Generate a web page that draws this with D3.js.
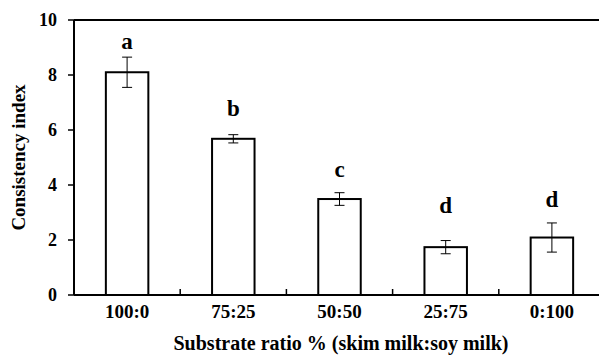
<!DOCTYPE html>
<html>
<head>
<meta charset="utf-8">
<script src="https://cdn.jsdelivr.net/npm/d3@7"></script>
<style>
  body { margin: 0; background: #fff; }
  text { font-family: "Liberation Serif", "Times New Roman", serif; font-weight: bold; fill: #000; }
</style>
</head>
<body>
<svg id="chart" width="599" height="355"></svg>
<script>
// data
const ratios = ['100:0', '75:25', '50:50', '25:75', '0:100'];
const means = [8.1, 5.68, 3.49, 1.74, 2.09];
const errors = [0.55, 0.15, 0.23, 0.24, 0.53];
const letters = ['a', 'b', 'c', 'd', 'd'];
const letterAt = [8.95, 6.5, 4.3, 2.98, 3.2]; // baseline of each letter, in y units
const yTicks = [0, 2, 4, 6, 8, 10];

const svg = d3.select('#chart');
const plotL = 74, plotR = 605, plotT = 20, plotB = 295;

const x = d3.scaleBand()
  .domain(ratios)
  .range([plotL, plotR])
  .paddingInner(0.6)
  .paddingOuter(0.3);

const step = (plotR - plotL) / ratios.length;

const y = d3.scaleLinear()
  .domain([0, 10])
  .range([plotB, plotT]);

// top frame line
svg.append('line')
  .attr('x1', plotL).attr('x2', 599)
  .attr('y1', y(10)).attr('y2', y(10))
  .attr('stroke', '#000').attr('stroke-width', 2);

// bars
svg.selectAll('rect.bar')
  .data(ratios)
  .enter()
  .append('rect')
  .attr('class', 'bar')
  .attr('x', d => x(d))
  .attr('y', (d, i) => y(means[i]))
  .attr('width', x.bandwidth())
  .attr('height', (d, i) => y(0) - y(means[i]))
  .attr('fill', '#fff')
  .attr('stroke', '#000')
  .attr('stroke-width', 2);

// error bars
const eb = svg.selectAll('g.err')
  .data(ratios)
  .enter()
  .append('g')
  .attr('class', 'err')
  .attr('stroke', '#000')
  .attr('stroke-width', 1);

eb.append('line')
  .attr('x1', d => x(d) + x.bandwidth() / 2)
  .attr('x2', d => x(d) + x.bandwidth() / 2)
  .attr('y1', (d, i) => y(means[i] + errors[i]))
  .attr('y2', (d, i) => y(means[i] - errors[i]));

[1, -1].forEach(s => {
  eb.append('line')
    .attr('x1', d => x(d) + x.bandwidth() / 2 - 5)
    .attr('x2', d => x(d) + x.bandwidth() / 2 + 5)
    .attr('y1', (d, i) => y(means[i] + s * errors[i]))
    .attr('y2', (d, i) => y(means[i] + s * errors[i]));
});

// significance letters
svg.selectAll('text.letter')
  .data(ratios)
  .enter()
  .append('text')
  .attr('class', 'letter')
  .attr('x', d => x(d) + x.bandwidth() / 2)
  .attr('y', (d, i) => y(letterAt[i]))
  .attr('text-anchor', 'middle')
  .style('font-size', '23px')
  .text((d, i) => letters[i]);

// y axis
svg.append('line')
  .attr('x1', plotL).attr('x2', plotL)
  .attr('y1', y(10)).attr('y2', y(0))
  .attr('stroke', '#000').attr('stroke-width', 2);

svg.selectAll('line.ytick')
  .data(yTicks)
  .enter()
  .append('line')
  .attr('class', 'ytick')
  .attr('x1', plotL - 6).attr('x2', plotL)
  .attr('y1', d => y(d)).attr('y2', d => y(d))
  .attr('stroke', '#000').attr('stroke-width', 1.5);

svg.selectAll('text.ylab')
  .data(yTicks)
  .enter()
  .append('text')
  .attr('class', 'ylab')
  .attr('x', 57)
  .attr('y', d => y(d) + 6)
  .attr('text-anchor', 'end')
  .style('font-size', '18px')
  .text(d => d);

// x axis
svg.append('line')
  .attr('x1', plotL).attr('x2', 599)
  .attr('y1', y(0)).attr('y2', y(0))
  .attr('stroke', '#000').attr('stroke-width', 2);

svg.selectAll('line.xtick')
  .data(d3.range(1, ratios.length))
  .enter()
  .append('line')
  .attr('class', 'xtick')
  .attr('x1', d => plotL + d * step).attr('x2', d => plotL + d * step)
  .attr('y1', y(0) - 6).attr('y2', y(0))
  .attr('stroke', '#000').attr('stroke-width', 1.5);

svg.selectAll('text.xlab')
  .data(ratios)
  .enter()
  .append('text')
  .attr('class', 'xlab')
  .attr('x', d => x(d) + x.bandwidth() / 2)
  .attr('y', 318)
  .attr('text-anchor', 'middle')
  .style('font-size', '19px')
  .text(d => d);

// axis titles
svg.append('text')
  .attr('x', 341)
  .attr('y', 350)
  .attr('text-anchor', 'middle')
  .style('font-size', '20px')
  .text('Substrate ratio % (skim milk:soy milk)');

svg.append('text')
  .attr('transform', `translate(25,${(plotT + plotB) / 2}) rotate(-90)`)
  .attr('text-anchor', 'middle')
  .style('font-size', '19px')
  .text('Consistency index');
</script>
</body>
</html>
